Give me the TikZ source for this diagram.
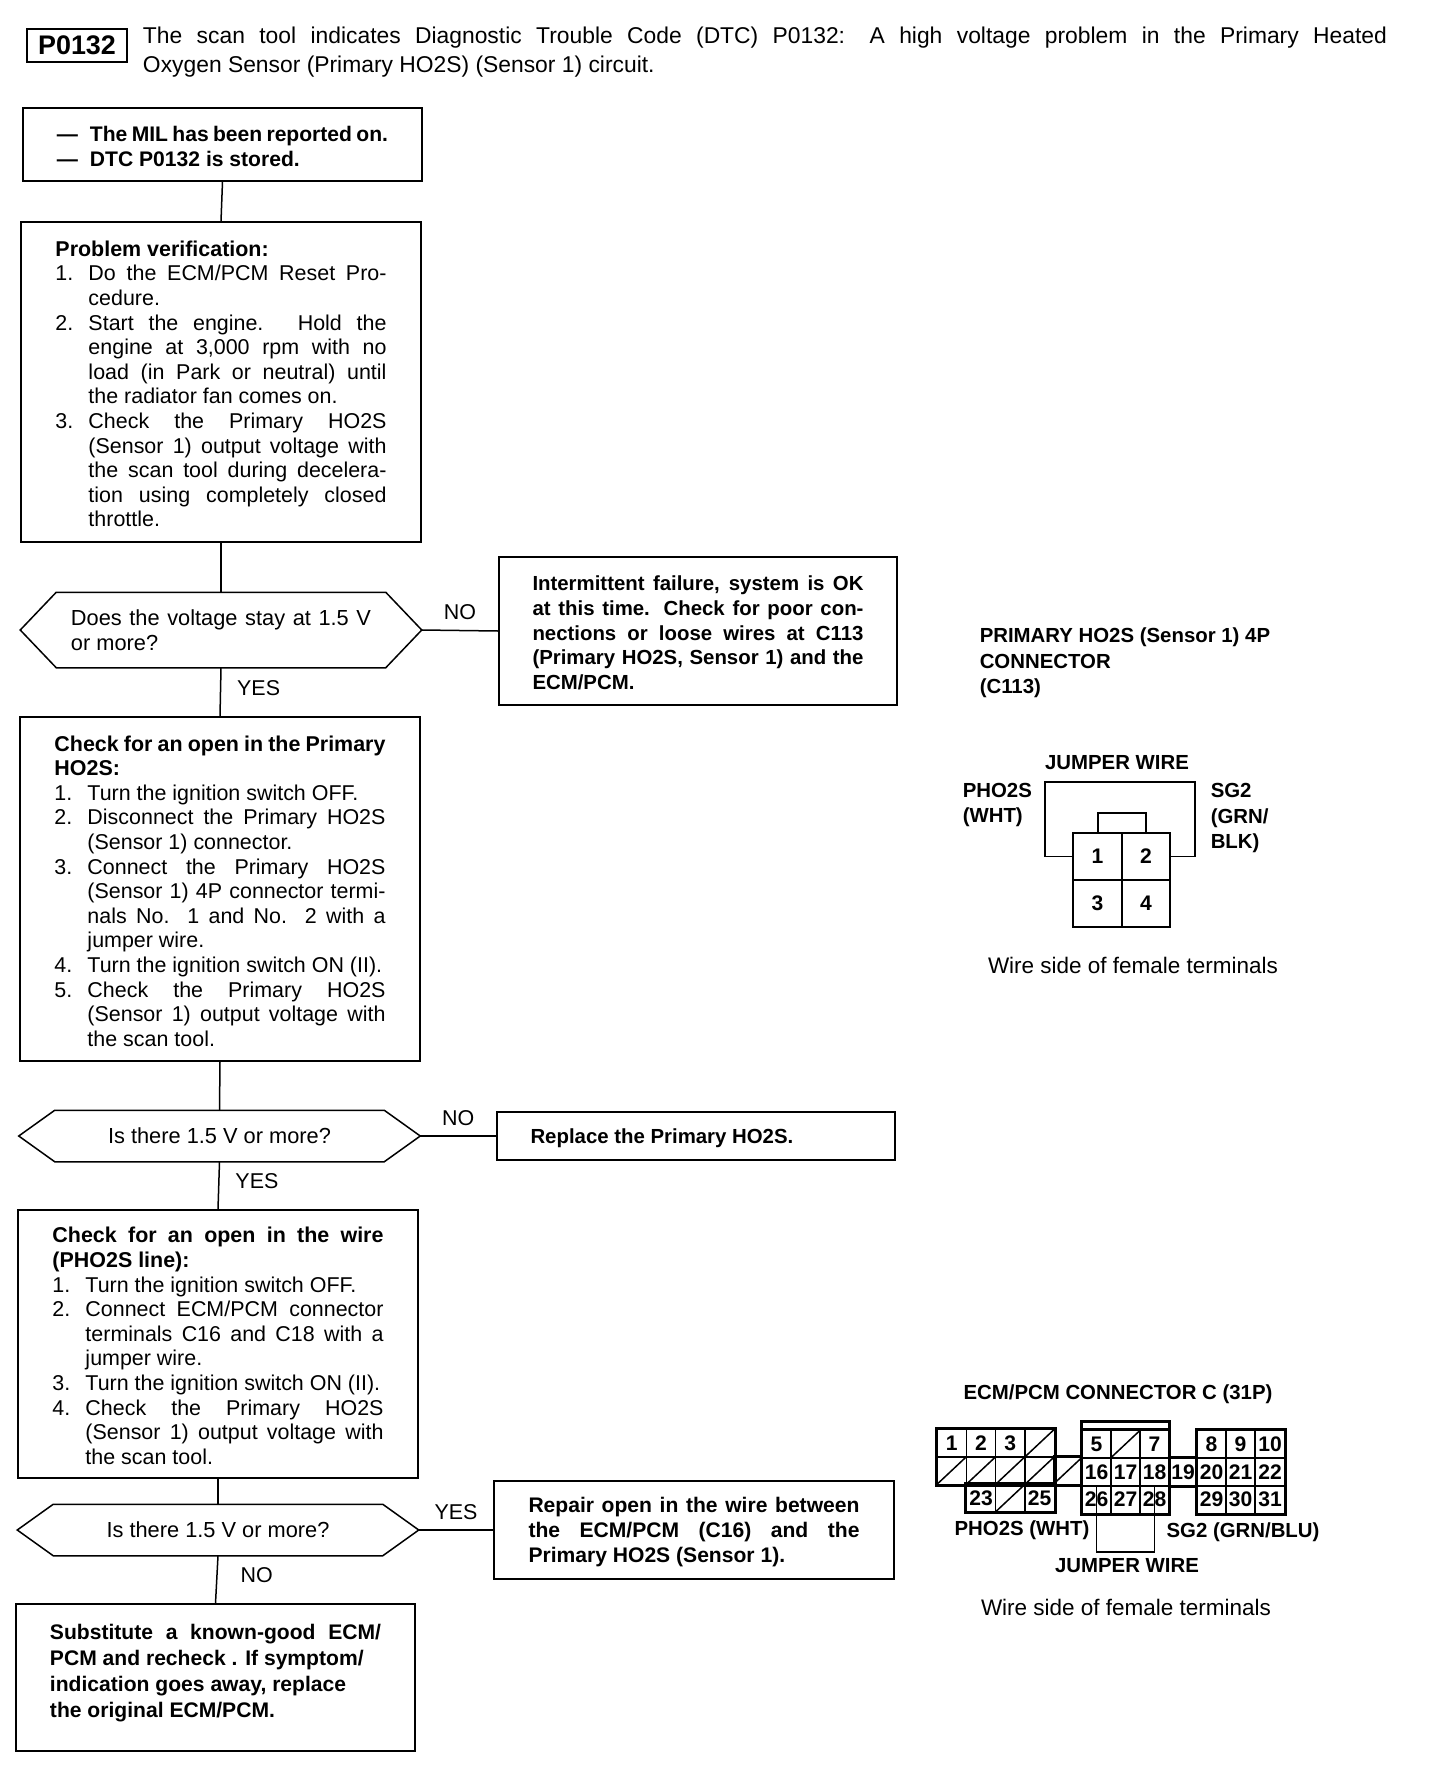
\documentclass[tikz,border=0pt]{standalone}
\usepackage{fontspec}
\setmainfont{Liberation Sans}
\newcommand{\fullline}[1]{\hbox to \hsize{#1}\par}
\newcommand{\shortline}[1]{\hbox to \hsize{#1\hfil}\par}
\newcommand{\numb}[1]{\hbox to 6.6mm{#1\hfil}}
\newcommand{\hexa}[1]{\draw (#1.west) -- ([xshift=7.2mm]#1.north west) -- ([xshift=-7.2mm]#1.north east) -- (#1.east) -- ([xshift=-7.2mm]#1.south east) -- ([xshift=7.2mm]#1.south west) -- cycle;}
\tikzset{
  stepbox/.style={draw,inner sep=0pt,text width=66.2mm,align=justify,minimum width=#1,execute at begin node={\hrule height 0pt\vskip 0.8mm}},
  ask/.style={inner sep=0pt,minimum width=80mm,font=\fontsize{12.4}{14}\selectfont},
  lab/.style={inner sep=0pt,font=\fontsize{11.6}{14.5}\selectfont\bfseries},
  note/.style={inner sep=0pt,font=\fontsize{12.8}{14}\selectfont},
  pin/.style={draw,inner sep=0pt,line width=0.35mm,minimum width=9.7mm,minimum height=9.4mm,font=\fontsize{12}{14}\selectfont\bfseries},
  cell/.style={draw,inner sep=0pt,line width=0.3mm,minimum width=5.86mm,minimum height=5.5mm,font=\fontsize{12}{14}\selectfont\bfseries},
  blank/.style={cell,path picture={\draw (path picture bounding box.south west)--(path picture bounding box.north east);}}
}
\begin{document}
\begin{tikzpicture}[x=0.2mm,y=-0.2mm,line width=0.3mm,every node/.append style={font=\fontsize{12.2}{14}\selectfont}]
\useasboundingbox (0,0) rectangle (1440,1766);
\node[draw,line width=0.45mm,inner sep=0pt,minimum width=20mm,minimum height=6.6mm,font=\fontsize{15.3}{16}\selectfont\bfseries] (code) at (77,45.5) {P0132};
\node[inner sep=0pt,text width=248.8mm,align=justify,font=\fontsize{13}{16.5}\selectfont] (head) at (765,52) {\fullline{The scan tool indicates Diagnostic Trouble Code (DTC) P0132: A high voltage problem in the Primary Heated}
\shortline{Oxygen Sensor (Primary HO2S) (Sensor 1) circuit.}};

\node[stepbox=79.8mm,minimum height=14.6mm,font=\fontsize{12}{14}\selectfont\bfseries] (mil) at (222.5,144.5) {\shortline{\numb{—}The MIL has been reported on.}
\shortline{\numb{—}DTC P0132 is stored.}};
\node[stepbox=80mm,minimum height=64mm] (verify) at (221,382) {\shortline{\textbf{Problem verification:}}
\fullline{\numb{1.}Do the ECM/PCM Reset Pro-}
\shortline{\numb{}cedure.}
\fullline{\numb{2.}Start the engine. Hold the}
\fullline{\numb{}engine at 3,000 rpm with no}
\fullline{\numb{}load (in Park or neutral) until}
\shortline{\numb{}the radiator fan comes on.}
\fullline{\numb{3.}Check the Primary HO2S}
\fullline{\numb{}(Sensor 1) output voltage with}
\fullline{\numb{}the scan tool during decelera-}
\fullline{\numb{}tion using completely closed}
\shortline{\numb{}throttle.}};
\node[ask,minimum height=14.8mm,text width=60mm,align=justify] (q1) at (221,630) {\fullline{Does the voltage stay at 1.5 V}
\shortline{or more?}};
\hexa{q1}
\node[stepbox=79.6mm,minimum height=29.6mm,font=\fontsize{11.6}{14}\selectfont\bfseries] (intermit) at (698,631) {\fullline{Intermittent failure, system is OK}
\fullline{at this time. Check for poor con-}
\fullline{nections or loose wires at C113}
\fullline{(Primary HO2S, Sensor 1) and the}
\shortline{ECM/PCM.}};
\node[stepbox=80mm,minimum height=68.8mm] (hopen) at (220,889) {\fullline{\textbf{Check for an open in the Primary}}
\shortline{\textbf{HO2S:}}
\shortline{\numb{1.}Turn the ignition switch OFF.}
\fullline{\numb{2.}Disconnect the Primary HO2S}
\shortline{\numb{}(Sensor 1) connector.}
\fullline{\numb{3.}Connect the Primary HO2S}
\fullline{\numb{}(Sensor 1) 4P connector termi-}
\fullline{\numb{}nals No. 1 and No. 2 with a}
\shortline{\numb{}jumper wire.}
\shortline{\numb{4.}Turn the ignition switch ON (II).}
\fullline{\numb{5.}Check the Primary HO2S}
\fullline{\numb{}(Sensor 1) output voltage with}
\shortline{\numb{}the scan tool.}};
\node[ask,minimum height=10mm] (q2) at (219.5,1136) {Is there 1.5 V or more?};
\hexa{q2}
\node[stepbox=79.6mm,minimum height=9.6mm,font=\fontsize{11.6}{14}\selectfont\bfseries] (replace) at (696,1136) {\shortline{Replace the Primary HO2S.}};
\node[stepbox=80mm,minimum height=53.6mm] (wireopen) at (218,1344) {\fullline{\textbf{Check for an open in the wire}}
\shortline{\textbf{(PHO2S line):}}
\shortline{\numb{1.}Turn the ignition switch OFF.}
\fullline{\numb{2.}Connect ECM/PCM connector}
\fullline{\numb{}terminals C16 and C18 with a}
\shortline{\numb{}jumper wire.}
\shortline{\numb{3.}Turn the ignition switch ON (II).}
\fullline{\numb{4.}Check the Primary HO2S}
\fullline{\numb{}(Sensor 1) output voltage with}
\shortline{\numb{}the scan tool.}};
\node[ask,minimum height=10mm] (q3) at (218,1530) {Is there 1.5 V or more?};
\hexa{q3}
\node[stepbox=80mm,minimum height=19.6mm,font=\fontsize{12}{14}\selectfont\bfseries] (repair) at (694,1530) {\fullline{Repair open in the wire between}
\fullline{the ECM/PCM (C16) and the}
\shortline{Primary HO2S (Sensor 1).}};
\node[stepbox=79.8mm,minimum height=29.4mm,font=\fontsize{12}{14.8}\selectfont\bfseries] (subst) at (215.5,1677.5) {\fullline{Substitute a known-good ECM/}
\shortline{PCM and recheck . If symptom/}
\shortline{indication goes away, replace}
\shortline{the original ECM/PCM.}\vskip 2.6mm\hrule height 0pt};

\draw (mil.south)--(verify.north);
\draw (verify.south)--(q1.north);
\draw (q1.east)--node[inner sep=5.6pt,above] (no1) {NO} (intermit.west);
\draw (q1.south)--node[inner sep=9pt,right,pos=0.42] (yes1) {YES} (hopen.north);
\draw (hopen.south)--(q2.north);
\draw (q2.east)--node[inner sep=5.6pt,above] (no2) {NO} (replace.west);
\draw (q2.south)--node[inner sep=9pt,right,pos=0.4] (yes2) {YES} (wireopen.north);
\draw (wireopen.south)--(q3.north);
\draw (q3.east)--node[inner sep=5.6pt,above] (yes3) {YES} (repair.west);
\draw (q3.south)--node[inner sep=13pt,right,pos=0.4] (no3) {NO} (subst.north);

\node[lab,anchor=west,align=left] (title1) at (979,663) {PRIMARY HO2S (Sensor 1) 4P\\CONNECTOR\\(C113)};
\node[lab] (jump1) at (1117,763) {JUMPER WIRE};
\node[lab,anchor=west,align=left] (pho1) at (962,805) {PHO2S\\(WHT)};
\node[lab,anchor=west,align=left] (sg1) at (1210,818) {SG2\\(GRN/\\BLK)};
\node[pin] (pin1) at (1097.5,856.5) {1};
\node[pin] (pin2) at (1146,856.5) {2};
\node[pin] (pin3) at (1097.5,903.5) {3};
\node[pin] (pin4) at (1146,903.5) {4};
\coordinate (wa) at (1045,782);
\coordinate (wb) at (1195,782);
\coordinate (tab) at (1122,813);
\draw (pin1.west) -| (wa) -- (wb) |- (pin2.east);
\draw[line width=0.4mm] (pin1.north) |- (tab) -| (pin2.north);
\node[note] (side1) at (1133,965) {Wire side of female terminals};

\node[lab] (title2) at (1118,1394) {ECM/PCM CONNECTOR C (31P)};
\foreach \n/\cx/\cy in {1/951.7/1443,2/981/1443,3/1010.3/1443,23/981/1498,25/1039.7/1498,5/1096.5/1444,7/1154.5/1444,16/1096.5/1472,17/1125.5/1472,18/1154.5/1472,26/1096.5/1499.5,27/1125.5/1499.5,28/1154.5/1499.5,19/1183/1472,8/1211.5/1444,9/1240.5/1444,10/1270/1444,20/1211.5/1472,21/1240.5/1472,22/1270/1472,29/1211.5/1499.5,30/1240.5/1499.5,31/1270/1499.5}
  \node[cell] (c\n) at (\cx,\cy) {\n};
\foreach \n/\cx/\cy in {4/1039.7/1443,6/1125.5/1444,11/951.7/1470.5,12/981/1470.5,13/1010.3/1470.5,14/1039.7/1470.5,15/1068/1470.5,24/1010.3/1498}
  \node[blank] (c\n) at (\cx,\cy) {};
\draw[line width=0.6mm] (c1.north west) rectangle (c14.south east);
\draw[line width=0.6mm] (c23.north west) rectangle (c25.south east);
\draw[line width=0.6mm] (c5.north west) rectangle (c28.south east);
\draw[line width=0.6mm] (c8.north west) rectangle (c31.south east);
\draw[line width=0.6mm] (c15.north west) -- (c15.north east) (c15.south west) -- (c15.south east);
\draw[line width=0.6mm] (c19.north west) -- (c19.north east) (c19.south west) -- (c19.south east);
\draw[line width=0.6mm] (c5.north west) -- ++(0,-8) -| (c7.north east);
\coordinate (jbot) at (1124,1552);
\draw (c26.north) |- (jbot) -| (c28.north);
\node[lab] (pho2) at (1022,1530) {PHO2S (WHT)};
\node[lab] (sg2) at (1243,1532) {SG2 (GRN/BLU)};
\node[lab] (jump2) at (1127,1566) {JUMPER WIRE};
\node[note] (side2) at (1126,1607) {Wire side of female terminals};
\end{tikzpicture}
\end{document}
